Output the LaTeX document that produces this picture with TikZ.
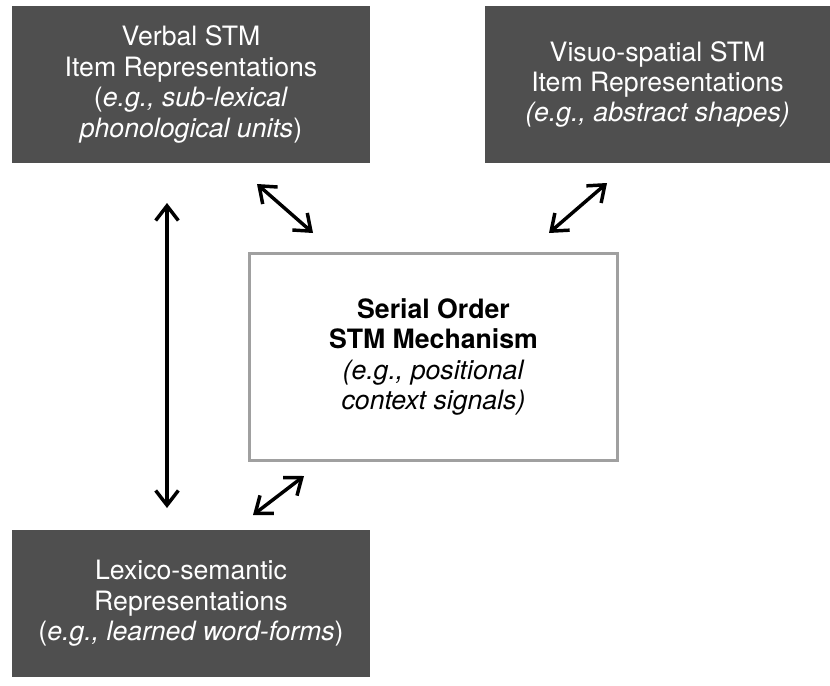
\documentclass[tikz,border=0pt]{standalone}
\usepackage{fontspec}
\setmainfont{TeX Gyre Heros}
\usetikzlibrary{arrows.meta}
\definecolor{boxgray}{HTML}{4F4F4F}
\definecolor{boxline}{HTML}{A0A0A0}
\begin{document}
\begin{tikzpicture}[x=0.75pt, y=-0.75pt,
		txt/.style={align=center, inner sep=0pt, font=\fontsize{20}{22.8}\selectfont},
		darkbox/.style={txt, fill=boxgray, text=white},
		mechbox/.style={txt, draw=boxline, line width=2pt, fill=white},
		link/.style={{Straight Barb[length=11pt, width=17pt]}-{Straight Barb[length=11pt, width=17pt]}, line width=2.6pt, line join=round, line cap=round}]
	\useasboundingbox (0,0) rectangle (830,685);
	% item stores
	\node[darkbox, minimum width=268.5pt, minimum height=117.75pt] (verbal) at (191,84.5)
		{Verbal STM\\Item Representations\\(\textit{e.g., sub-lexical}\\\textit{phonological units})};
	\node[darkbox, minimum width=258.75pt, minimum height=117.75pt] (visuo) at (657.5,84.5)
		{Visuo-spatial STM\\Item Representations\\\textit{(e.g., abstract shapes)}};
	\node[darkbox, minimum width=268.5pt, minimum height=110.25pt] (lexico) at (191,603.5)
		{Lexico-semantic\\Representations\\(\textit{e.g., learned word-forms})};
	% order mechanism
	\node[mechbox, minimum width=276pt, minimum height=155.5pt] (serial) at (433.5,357)
		{\textbf{Serial Order}\\\textbf{STM Mechanism}\\\textit{(e.g., positional}\\\textit{context signals)}};
	% arrow ends
	\coordinate (vl1) at (167,203);
	\coordinate (vl2) at (167,508);
	\coordinate (vs1) at (257,184);
	\coordinate (vs2) at (313,233);
	\coordinate (sp1) at (607,183);
	\coordinate (sp2) at (549,233);
	\coordinate (lx1) at (304,476);
	\coordinate (lx2) at (253,515);
	\draw[link] (vl1) -- (vl2);
	\draw[link] (vs1) -- (vs2);
	\draw[link] (sp1) -- (sp2);
	\draw[link] (lx1) -- (lx2);
\end{tikzpicture}
\end{document}
